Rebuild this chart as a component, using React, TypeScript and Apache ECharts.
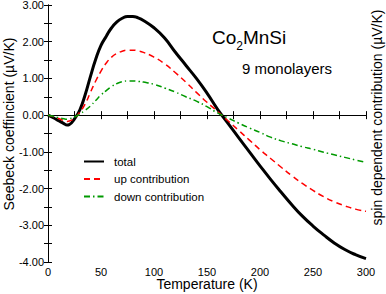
import React, { useEffect, useRef } from "react";
import * as echarts from "echarts";

const temps = [0, 5, 10, 15, 18, 20, 25, 30, 35, 40, 45, 50, 55, 60, 65, 70, 75, 80, 85, 90, 100, 110, 120, 130, 140, 150, 160, 170, 180, 190, 200, 210, 220, 230, 240, 250, 260, 270, 280, 290, 300];
const total = [0, -0.07, -0.15, -0.23, -0.27, -0.26, -0.1, 0.14, 0.55, 1.05, 1.52, 1.9, 2.15, 2.38, 2.54, 2.64, 2.69, 2.69, 2.65, 2.58, 2.38, 2.1, 1.72, 1.36, 1.0, 0.6, 0.16, -0.23, -0.62, -1.0, -1.38, -1.75, -2.1, -2.44, -2.75, -3.02, -3.26, -3.48, -3.66, -3.8, -3.91];
const up = [0, -0.04, -0.09, -0.15, -0.17, -0.16, -0.08, 0.08, 0.3, 0.62, 0.93, 1.2, 1.42, 1.58, 1.68, 1.74, 1.77, 1.77, 1.75, 1.71, 1.58, 1.4, 1.16, 0.9, 0.62, 0.35, 0.1, -0.16, -0.42, -0.68, -0.94, -1.18, -1.42, -1.65, -1.86, -2.05, -2.22, -2.36, -2.47, -2.56, -2.62];
const down = [0, -0.03, -0.07, -0.1, -0.11, -0.1, -0.05, 0.03, 0.13, 0.25, 0.4, 0.55, 0.67, 0.78, 0.86, 0.91, 0.93, 0.93, 0.92, 0.9, 0.84, 0.74, 0.63, 0.5, 0.38, 0.23, 0.06, -0.08, -0.22, -0.35, -0.47, -0.6, -0.7, -0.78, -0.86, -0.93, -1.01, -1.08, -1.15, -1.22, -1.29];
const seriesNames = ["total", "up contribution", "down contribution"];
const leftAxisTitle = "Seebeck coeffincient (\u00b5V/K)";
const rightAxisTitle = "spin dependent contribution (\u00b5V/K)";
const xAxisTitle = "Temperature (K)";

const FONT = "'Liberation Sans', Arial, Helvetica, sans-serif";

export default function App() {
  const ref = useRef<HTMLDivElement>(null);
  useEffect(() => {
    if (!ref.current) return;
    const chart = echarts.init(ref.current, null, { renderer: "svg" });
    const pairs = (vals: number[]) => temps.map((t, i) => [t, vals[i]]);
    const axisLine = { show: true, lineStyle: { color: "#000", width: 1 } };
    chart.setOption({
      animation: false,
      backgroundColor: "#fff",
      textStyle: { fontFamily: FONT },
      grid: { left: 48, right: 20, top: 5, bottom: 32, containLabel: false, outerBoundsMode: "none" },
      legend: {
        data: seriesNames,
        orient: "vertical",
        left: 83,
        top: 155.5,
        padding: 0,
        itemWidth: 20,
        itemHeight: 10,
        itemGap: 5.5,
        itemStyle: { opacity: 0 },
        textStyle: { fontSize: 11.5, lineHeight: 10, color: "#000", fontFamily: FONT, padding: [0, 0, 0, 5] },
        selectedMode: false,
      },
      xAxis: [
        {
          type: "value",
          min: 0,
          max: 300,
          interval: 50,
          position: "bottom",
          axisLine,
          axisTick: { show: true, inside: true, length: 4, lineStyle: { color: "#000" } },
          minorTick: { show: true, splitNumber: 2, length: 4, lineStyle: { color: "#000" } },
          splitLine: { show: false },
          axisLabel: { fontSize: 11, color: "#000", margin: 4, fontFamily: FONT },
          name: xAxisTitle,
          nameLocation: "middle",
          nameGap: 15,
          nameMoveOverlap: false,
          nameTextStyle: { fontSize: 14, color: "#000", fontFamily: FONT },
        },
        {
          type: "value",
          min: 0,
          max: 300,
          interval: 25,
          position: "top",
          axisLine,
          axisTick: { show: true, inside: true, length: 4, lineStyle: { color: "#000" } },
          splitLine: { show: false },
          axisLabel: { show: false },
        },
      ],
      yAxis: [
        {
          type: "value",
          min: -4,
          max: 3,
          interval: 1,
          position: "left",
          axisLine,
          axisTick: { show: true, inside: true, length: 4, lineStyle: { color: "#000" } },
          minorTick: { show: true, splitNumber: 2, length: 4, lineStyle: { color: "#000" } },
          splitLine: { show: false },
          axisLabel: {
            fontSize: 11,
            color: "#000",
            margin: 4,
            fontFamily: FONT,
            formatter: (v: number) => v.toFixed(2),
          },
        },
        {
          type: "value",
          min: -4,
          max: 3,
          interval: 0.5,
          position: "right",
          axisLine,
          axisTick: { show: true, inside: true, length: 4, lineStyle: { color: "#000" } },
          splitLine: { show: false },
          axisLabel: { show: false },
        },
      ],
      graphic: [
        {
          type: "text",
          x: 9,
          y: 124,
          rotation: Math.PI / 2,
          style: { text: leftAxisTitle, fontSize: 14, fontFamily: FONT, fill: "#000", align: "center", verticalAlign: "middle" },
        },
        {
          type: "text",
          x: 377,
          y: 117.5,
          rotation: Math.PI / 2,
          style: { text: rightAxisTitle, fontSize: 14, fontFamily: FONT, fill: "#000", align: "center", verticalAlign: "middle" },
        },
        {
          type: "text",
          left: 212,
          top: 28,
          style: {
            text: "{a|Co}{s|2}{a|MnSi}",
            rich: {
              a: { fontSize: 19, fontFamily: FONT, fill: "#000", verticalAlign: "bottom", lineHeight: 20 },
              s: { fontSize: 12, fontFamily: FONT, fill: "#000", verticalAlign: "bottom", lineHeight: 14, padding: [0, 0, -5, 0] },
            },
          },
        },
        {
          type: "text",
          left: 242,
          top: 61,
          style: { text: "9 monolayers", fontSize: 15, fontFamily: FONT, fill: "#000" },
        },
      ],
      series: [
        {
          name: seriesNames[0],
          type: "line",
          data: pairs(total),
          smooth: true,
          symbol: "none",
          lineStyle: { color: "#000", width: 3 },
          itemStyle: { color: "#000", opacity: 0 },
        },
        {
          name: seriesNames[1],
          type: "line",
          data: pairs(up),
          smooth: true,
          symbol: "none",
          lineStyle: { color: "#ff0000", width: 1.5, type: [6, 4] },
          itemStyle: { color: "#ff0000", opacity: 0 },
        },
        {
          name: seriesNames[2],
          type: "line",
          data: pairs(down),
          smooth: true,
          symbol: "none",
          lineStyle: { color: "#009900", width: 1.5, type: [6, 3, 1.5, 3] },
          itemStyle: { color: "#009900", opacity: 0 },
        },
      ],
    });
    return () => chart.dispose();
  }, []);
  return <div ref={ref} style={{ width: 386, height: 294, position: "absolute", left: 0, top: 0 }} />;
}
